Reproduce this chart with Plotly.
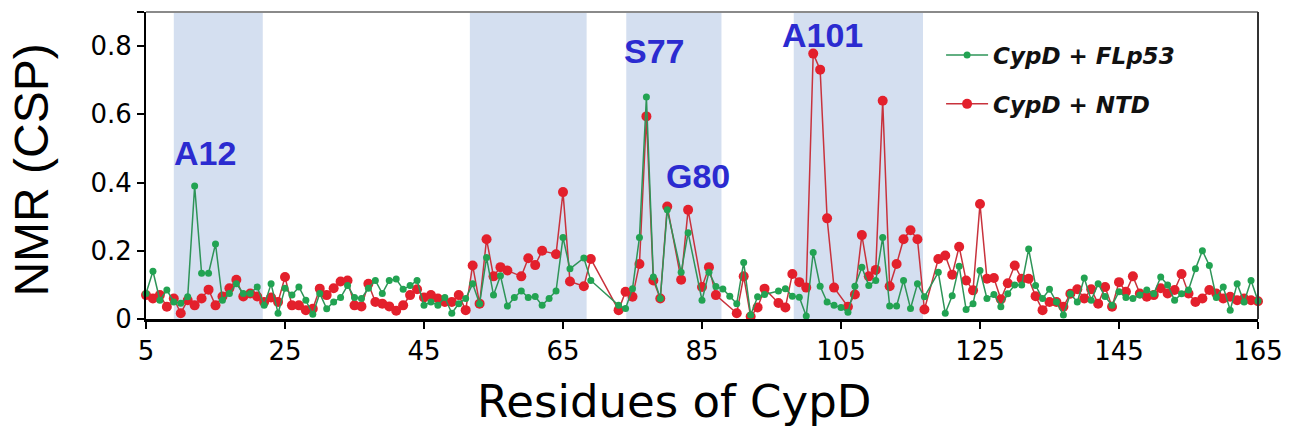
import plotly.graph_objects as go

residues = list(range(5, 166))

flp53 = [
    0.075, 0.14, 0.055, 0.085, 0.05, 0.046, 0.065, 0.39, 0.134, 0.134,      # 5-14
    0.22, 0.055, 0.075, 0.103, 0.075, 0.075, 0.094, 0.04, 0.103, 0.017,     # 15-24
    0.09, 0.07, 0.094, 0.055, 0.014, 0.075, 0.03, 0.05, 0.063, 0.098,       # 25-34
    0.063, 0.06, 0.09, 0.113, 0.075, 0.113, 0.117, 0.087, 0.098, 0.113,     # 35-44
    0.04, 0.05, 0.04, 0.063, 0.017, 0.045, 0.06, 0.103, 0.045, 0.18,        # 45-54
    0.07, 0.127, 0.038, 0.063, 0.082, 0.063, 0.066, 0.04, 0.06, 0.082,      # 55-64
    0.239, 0.147, None, 0.179, 0.113, None, None, None, 0.04, 0.031,        # 65-74
    0.089, 0.239, 0.651, 0.123, 0.06, 0.32, None, 0.137, 0.253, None,       # 75-84
    0.055, 0.137, 0.095, 0.088, 0.067, 0.045, 0.166, 0.012, 0.065, 0.072,   # 85-94
    None, 0.082, 0.089, 0.067, 0.064, 0.009, 0.195, 0.096, 0.05, 0.04,      # 95-104
    0.034, 0.02, 0.096, 0.152, 0.098, 0.113, 0.239, 0.038, 0.038, 0.113,    # 105-114
    0.031, 0.103, 0.065, None, 0.137, 0.017, 0.068, 0.155, 0.028, 0.045,    # 115-124
    0.142, 0.06, 0.072, 0.036, 0.074, 0.1, 0.1, 0.205, 0.098, 0.06,         # 125-134
    0.087, 0.05, 0.012, 0.074, 0.05, 0.12, 0.055, 0.103, 0.066, 0.04,       # 135-144
    0.08, 0.063, 0.06, 0.07, 0.085, 0.074, 0.123, 0.1, 0.055, 0.074,        # 145-154
    0.085, 0.147, 0.2, 0.157, 0.063, 0.094, 0.026, 0.103, 0.05, 0.113,      # 155-164
    0.053,                                                                   # 165
]

ntd = [
    0.07, 0.06, 0.07, 0.036, 0.06, 0.017, 0.055, 0.04, 0.06, 0.086,         # 5-14
    0.04, 0.066, 0.09, 0.115, 0.066, 0.075, 0.066, 0.05, 0.063, 0.05,       # 15-24
    0.123, 0.04, 0.04, 0.026, 0.03, 0.089, 0.07, 0.09, 0.11, 0.113,         # 25-34
    0.04, 0.037, 0.103, 0.05, 0.045, 0.037, 0.024, 0.04, 0.07, 0.087,       # 35-44
    0.063, 0.07, 0.06, 0.05, 0.05, 0.07, 0.026, 0.157, 0.045, 0.234,        # 45-54
    0.125, 0.152, 0.142, None, 0.125, 0.178, 0.158, 0.2, None, 0.19,        # 55-64
    0.372, 0.11, None, 0.096, 0.176, None, None, None, 0.026, 0.08,         # 65-74
    0.065, 0.161, 0.594, 0.113, 0.06, 0.33, None, 0.115, 0.32, None,        # 75-84
    0.094, 0.152, 0.07, None, None, 0.017, 0.125, 0.007, 0.034, 0.089,      # 85-94
    None, 0.047, 0.034, 0.132, 0.108, 0.092, 0.778, 0.731, 0.295, 0.092,    # 95-104
    None, 0.036, 0.072, 0.246, 0.125, 0.144, 0.64, 0.096, 0.161, 0.234,     # 105-114
    0.26, 0.234, 0.028, None, 0.176, 0.186, 0.13, 0.212, 0.113, 0.084,      # 115-124
    0.337, 0.118, 0.12, 0.058, 0.105, 0.157, 0.118, 0.118, 0.067, 0.026,    # 125-134
    0.05, 0.05, 0.036, 0.074, 0.087, 0.06, 0.087, 0.045, 0.094, 0.036,      # 135-144
    0.108, 0.08, 0.125, 0.075, 0.065, 0.07, 0.09, 0.075, 0.085, 0.132,      # 145-154
    0.075, 0.05, 0.06, 0.085, 0.075, 0.06, 0.065, 0.055, 0.06, 0.055,       # 155-164
    0.052,                                                                   # 165
]

regions = [(9.0, 21.8), (51.6, 68.4), (74.1, 87.8), (98.2, 116.8)]

labels = ["A12", "S77", "G80", "A101"]
label_x = [13.5, 78.2, 84.4, 102.3]
label_y = [0.488, 0.785, 0.42, 0.832]

xticks = [5, 25, 45, 65, 85, 105, 125, 145, 165]
yticks = [0, 0.2, 0.4, 0.6, 0.8, 0.9]
yticktext = ["0", "0.2", "0.4", "0.6", "0.8", ""]

fig = go.Figure()

fig.add_trace(go.Scatter(
    x=residues, y=ntd, name="<b><i>CypD + NTD</i></b>", mode="lines+markers",
    connectgaps=True, cliponaxis=False, legendrank=2, legendgroup="ntd",
    line=dict(color="#c8323c", width=1.5),
    marker=dict(color="#e3202c", size=10),
))
fig.add_trace(go.Scatter(
    x=residues, y=flp53, name="<b><i>CypD + FLp53</i></b>", mode="lines+markers",
    connectgaps=True, cliponaxis=False, legendrank=1, legendgroup="flp53",
    line=dict(color="#2e9458", width=1.5),
    marker=dict(color="#22a352", size=7),
))

for a, b in regions:
    fig.add_shape(type="rect", xref="x", yref="paper", x0=a, x1=b, y0=0, y1=1,
                  fillcolor="#d4dff0", line=dict(width=0), layer="below")

# top and right frame lines
fig.add_shape(type="line", xref="paper", yref="paper", x0=0, x1=1, y0=1, y1=1,
              line=dict(color="#8a8a8a", width=2))
fig.add_shape(type="line", xref="paper", yref="paper", x0=1, x1=1, y0=0, y1=1,
              line=dict(color="#333333", width=2))

for t, lx, ly in zip(labels, label_x, label_y):
    fig.add_annotation(x=lx, y=ly, xref="x", yref="y", text="<b>%s</b>" % t,
                       showarrow=False,
                       font=dict(family="Liberation Sans, Arial", size=34, color="#2b2bd0"))

fig.add_annotation(x=0.475, y=-0.27, xref="paper", yref="paper",
                   text="Residues of CypD", showarrow=False,
                   xanchor="center", yanchor="middle",
                   font=dict(family="DejaVu Sans", size=45, color="black"))
fig.add_annotation(x=-0.103, y=0.485, xref="paper", yref="paper",
                   text="NMR (CSP)", showarrow=False, textangle=-90,
                   xanchor="center", yanchor="middle",
                   font=dict(family="Liberation Sans, Arial", size=48, color="black"))

fig.update_layout(
    width=1311, height=441,
    margin=dict(l=146, r=53, t=12, b=122),
    paper_bgcolor="white", plot_bgcolor="white",
    showlegend=True,
    legend=dict(x=0.715, y=0.93, xanchor="left", yanchor="top",
                bgcolor="rgba(0,0,0,0)",
                font=dict(family="DejaVu Sans", size=23, color="#111"),
                itemwidth=42, tracegroupgap=16),
    font=dict(family="DejaVu Sans", color="black"),
)
fig.update_xaxes(range=[5, 165], tickvals=xticks, showgrid=False, zeroline=False,
                 showline=True, linecolor="black", linewidth=3,
                 ticks="outside", ticklen=7, tickwidth=2, tickcolor="black",
                 tickfont=dict(family="DejaVu Sans", size=26, color="black"))
fig.update_yaxes(range=[0, 0.9], tickvals=yticks, ticktext=yticktext,
                 showgrid=False, zeroline=False,
                 showline=True, linecolor="black", linewidth=2,
                 ticks="outside", ticklen=7, tickwidth=2, tickcolor="black",
                 tickfont=dict(family="DejaVu Sans", size=26, color="black"))

fig.write_html("out.html")
